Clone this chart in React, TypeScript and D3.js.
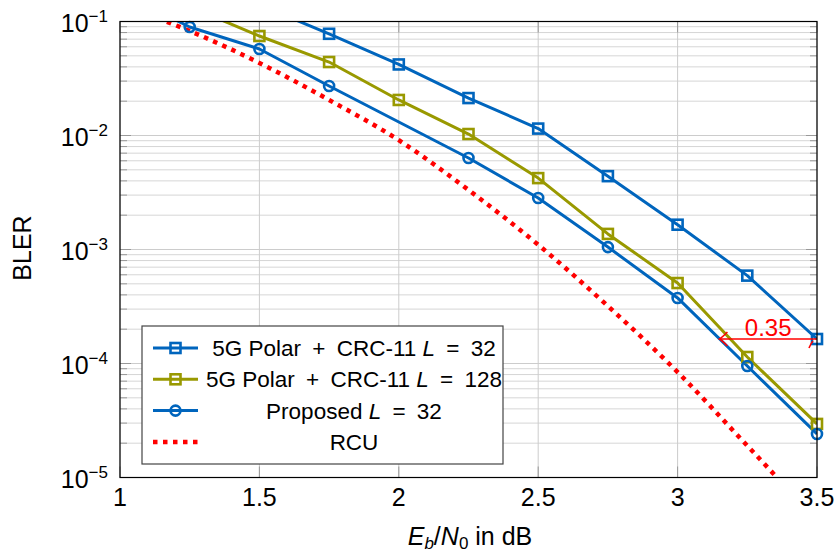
import React from 'react';
import * as d3 from 'd3';

// Eb/N0 in dB
const snr = [1, 1.25, 1.5, 1.75, 2, 2.25, 2.5, 2.75, 3, 3.25, 3.5];

// BLER values (null = no point)
const polar32 = [null, null, 0.14, 0.078, 0.042, 0.0213, 0.0115, 0.0044, 0.00165, 0.00059, 0.000164];
const polar128 = [null, 0.135, 0.0746, 0.0441, 0.0205, 0.0103, 0.00423, 0.00137, 0.000508, 0.000114, 2.95e-5];
const proposed32 = [0.18, 0.0895, 0.0574, 0.0272, null, 0.00635, 0.00283, 0.00105, 0.000376, 9.5e-5, 2.41e-5];
const rcu = [0.14, 0.0826, 0.0433, 0.0205, 0.0091, 0.00333, 0.0011, 0.000319, 8.4e-5, 1.9e-5, 4.2e-6];

const xTicks = [1, 1.5, 2, 2.5, 3, 3.5];
const xTickLabels = ['1', '1.5', '2', '2.5', '3', '3.5'];
const yExponents = [-1, -2, -3, -4, -5];

const legendLabels = [
  ['5G Polar\u2002+\u2002CRC-11 ', 'L', '\u2002=\u200232'],
  ['5G Polar\u2002+\u2002CRC-11 ', 'L', '\u2002=\u2002128'],
  ['Proposed ', 'L', '\u2002=\u200232'],
  ['RCU', '', ''],
];

// gap annotation: 3.15 dB -> 3.5 dB at the L=32 reference level
const gapFrom = 3.15;
const gapTo = 3.5;
const gapLabel = '0.35';

const BLUE = '#0065bd';
const OLIVE = '#999900';
const RED = '#ff0000';
const FONT = '"Liberation Sans", Arial, sans-serif';

export default function App() {
  const W = 838, H = 554;
  const margin = { top: 21.5, right: 21, bottom: 76.5, left: 120 };
  const width = W - margin.left - margin.right;
  const height = H - margin.top - margin.bottom;

  const x = d3.scaleLinear().domain([1, 3.5]).range([0, width]);
  const y = d3.scaleLog().domain([1e-5, 1e-1]).range([height, 0]);

  const toPts = (vals) =>
    snr.map((s, i) => [s, vals[i]]).filter((d) => d[1] != null);

  const line = d3.line().x((d) => x(d[0])).y((d) => y(d[1]));
  const smooth = d3.line().x((d) => x(d[0])).y((d) => y(d[1])).curve(d3.curveMonotoneX);

  const series = [
    { vals: polar32, color: BLUE, marker: 'square' },
    { vals: polar128, color: OLIVE, marker: 'square' },
    { vals: proposed32, color: BLUE, marker: 'circle' },
    { vals: rcu, color: RED, marker: 'none' },
  ];

  const inDomain = (d) => d[1] <= 0.1 && d[1] >= 1e-5;

  const marker = (type, color, cx, cy, key) => {
    if (type === 'square')
      return <rect key={key} x={cx - 5} y={cy - 5} width={10} height={10} fill="none" stroke={color} strokeWidth={2.6} />;
    if (type === 'circle')
      return <circle key={key} cx={cx} cy={cy} r={5} fill="none" stroke={color} strokeWidth={2.6} />;
    return null;
  };

  // minor grid values
  const minor = [];
  for (let e = -5; e < -1; e++) for (let k = 2; k <= 9; k++) minor.push(k * Math.pow(10, e));

  const gapY = y(polar32[snr.indexOf(gapTo)]);
  const gx1 = x(gapFrom), gx2 = x(gapTo);

  const legendX = 142 - margin.left, legendY = 326 - margin.top;
  const legendW = 361, legendH = 138;

  return (
    <svg width={W} height={H} style={{ position: 'absolute', left: 0, top: 0 }} fontFamily={FONT}>
      <defs>
        <clipPath id="plotclip">
          <rect x={0} y={0} width={width} height={height} />
        </clipPath>
      </defs>
      <rect width={W} height={H} fill="#fff" />
      <g transform={`translate(${margin.left},${margin.top})`}>
        {/* grid */}
        {minor.map((v, i) => (
          <line key={'mg' + i} x1={0} x2={width} y1={y(v)} y2={y(v)} stroke="#d6d6d6" strokeWidth={1} />
        ))}
        {yExponents.map((e) => (
          <line key={'yg' + e} x1={0} x2={width} y1={y(Math.pow(10, e))} y2={y(Math.pow(10, e))} stroke="#cccccc" strokeWidth={1} />
        ))}
        {xTicks.map((t) => (
          <line key={'xg' + t} x1={x(t)} x2={x(t)} y1={0} y2={height} stroke="#cccccc" strokeWidth={1} />
        ))}
        {/* ticks */}
        {minor.map((v, i) => (
          <g key={'mt' + i} stroke="#999" strokeWidth={1}>
            <line x1={0} x2={7} y1={y(v)} y2={y(v)} />
            <line x1={width - 7} x2={width} y1={y(v)} y2={y(v)} />
          </g>
        ))}
        {yExponents.map((e) => (
          <g key={'yt' + e} stroke="#999" strokeWidth={1}>
            <line x1={0} x2={11} y1={y(Math.pow(10, e))} y2={y(Math.pow(10, e))} />
            <line x1={width - 11} x2={width} y1={y(Math.pow(10, e))} y2={y(Math.pow(10, e))} />
          </g>
        ))}
        {xTicks.map((t) => (
          <g key={'xt' + t} stroke="#999" strokeWidth={1}>
            <line x1={x(t)} x2={x(t)} y1={height - 11} y2={height} />
            <line x1={x(t)} x2={x(t)} y1={0} y2={11} />
          </g>
        ))}

        {/* series lines */}
        <g clipPath="url(#plotclip)">
          {series.map((s, i) =>
            s.marker === 'none' ? (
              <path key={'l' + i} d={smooth(toPts(s.vals))} fill="none" stroke={s.color} strokeWidth={4.5} strokeDasharray="4.5 5.5" />
            ) : (
              <path key={'l' + i} d={line(toPts(s.vals))} fill="none" stroke={s.color} strokeWidth={3} strokeLinejoin="round" />
            )
          )}
        </g>
        {/* markers */}
        {series.map((s, i) =>
          toPts(s.vals)
            .filter(inDomain)
            .map((d, j) => marker(s.marker, s.color, x(d[0]), y(d[1]), 'm' + i + '-' + j))
        )}

        {/* gap annotation */}
        <g stroke={RED} strokeWidth={1.6} fill="none">
          <line x1={gx1} x2={gx2} y1={gapY} y2={gapY} />
          <path d={`M${gx1 + 8},${gapY - 7} Q${gx1 + 2},${gapY - 1} ${gx1},${gapY} Q${gx1 + 2},${gapY + 1} ${gx1 + 8},${gapY + 7}`} />
          <path d={`M${gx2 - 8},${gapY + 9} Q${gx2 - 6},${gapY + 4} ${gx2 - 4},${gapY + 2}`} />
        </g>
        <text x={(gx1 + gx2) / 2 + 0} y={gapY - 3} textAnchor="middle" fill={RED} fontSize={24}>
          {gapLabel}
        </text>

        {/* axis frame */}
        <rect x={0} y={0} width={width} height={height} fill="none" stroke="#000" strokeWidth={1.2} />

        {/* x tick labels */}
        {xTicks.map((t, i) => (
          <text key={'xl' + t} x={x(t)} y={height + 28.5} textAnchor="middle" fontSize={25} fill="#000">
            {xTickLabels[i]}
          </text>
        ))}
        {/* y tick labels */}
        {yExponents.map((e) => (
          <text key={'yl' + e} x={-12} y={y(Math.pow(10, e)) + 10.5} textAnchor="end" fontSize={25} fill="#000">
            10
            <tspan dy={-10.5} fontSize={17}>
              {'\u2212' + Math.abs(e)}
            </tspan>
          </text>
        ))}

        {/* legend */}
        <g transform={`translate(${legendX},${legendY})`}>
          <rect x={0} y={0} width={legendW} height={legendH} fill="#fff" stroke="#444" strokeWidth={1.2} />
          {series.map((s, i) => {
            const cy = 22 + i * 31.3;
            return (
              <g key={'lg' + i}>
                {s.marker === 'none' ? (
                  <line x1={11} x2={56} y1={cy} y2={cy} stroke={s.color} strokeWidth={4.5} strokeDasharray="4.5 5.5" />
                ) : (
                  <line x1={11} x2={56} y1={cy} y2={cy} stroke={s.color} strokeWidth={3} />
                )}
                {marker(s.marker, s.color, 33.5, cy, 'lm' + i)}
                <text x={212} y={cy + 8} textAnchor="middle" fontSize={22.5} fill="#000">
                  {legendLabels[i][0]}
                  {legendLabels[i][1] && <tspan fontStyle="italic">{legendLabels[i][1]}</tspan>}
                  {legendLabels[i][2]}
                </text>
              </g>
            );
          })}
        </g>
      </g>

      {/* axis labels */}
      <text x={470} y={545} textAnchor="middle" fontSize={25} fill="#000">
        <tspan fontStyle="italic">E</tspan>
        <tspan fontSize={17} dy={4} fontStyle="italic">b</tspan>
        <tspan dy={-4}>/</tspan>
        <tspan fontStyle="italic">N</tspan>
        <tspan fontSize={17} dy={4}>0</tspan>
        <tspan dy={-4}> in dB</tspan>
      </text>
      <text transform="translate(31,248) rotate(-90)" textAnchor="middle" fontSize={25} fill="#000">
        BLER
      </text>
    </svg>
  );
}
